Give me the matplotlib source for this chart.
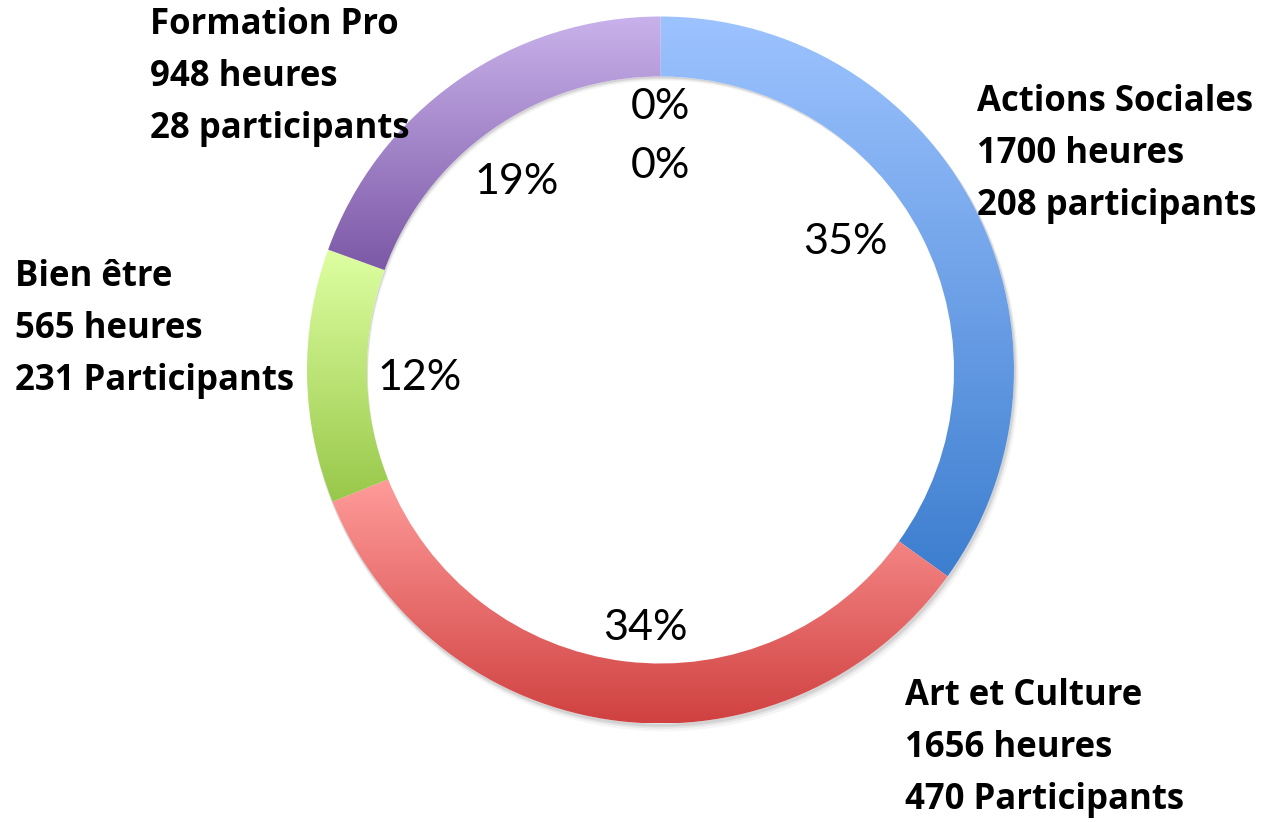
import numpy as np
import matplotlib
matplotlib.use("Agg")
import matplotlib.pyplot as plt
from matplotlib.colors import LinearSegmentedColormap
from matplotlib.patches import Wedge

# donnees
categories = ['Actions Sociales', 'Art et Culture', 'Bien être', 'Formation Pro', '', '']
heures = [1700, 1656, 565, 948, 0, 0]
participants = ['208 participants', '470 Participants', '231 Participants', '28 participants']

# couleurs degradees (haut, bas)
top_colors = ['#9DC3FF', '#FF9C9A', '#DEFFA2', '#C9B2EB', '#FFFFFF', '#FFFFFF']
bottom_colors = ['#3D7ECF', '#D04141', '#98C84A', '#7C58A6', '#FFFFFF', '#FFFFFF']

W, H = 1278, 822
cx, cy = 660.5, H - 370
R = 353.5
ring = 60

fig = plt.figure(figsize=(W / 100, H / 100), dpi=100)
ax = fig.add_axes([0, 0, 1, 1])

# ombre legere sous l'anneau
for off, a in [(6, 0.04), (4, 0.06), (2.5, 0.08)]:
    sh = Wedge((cx + off * 0.5, cy - off), R + off * 0.3, 0, 360, width=ring,
               facecolor='black', alpha=a, edgecolor='none')
    ax.add_patch(sh)

wedges, _ = ax.pie(heures, center=(cx, cy), radius=R, startangle=90,
                   counterclock=False, wedgeprops=dict(width=ring, linewidth=0),
                   colors=['white'] * len(heures), frame=True)

grad = np.linspace(0, 1, 256).reshape(-1, 1)
for w, v, ct, cb in zip(wedges, heures, top_colors, bottom_colors):
    if v == 0:
        continue
    ext = w.get_path().get_extents()
    cmap = LinearSegmentedColormap.from_list('g', [cb, ct])
    im = ax.imshow(grad, extent=[ext.x0, ext.x1, ext.y0, ext.y1], origin='lower',
                   cmap=cmap, aspect='auto', interpolation='bilinear', zorder=2)
    im.set_clip_path(w)

ax.set_xlim(0, W)
ax.set_ylim(0, H)
ax.set_aspect('equal')
ax.axis('off')

# pourcentages
total = sum(heures)
pct_pos = [(845, 242), (645, 628), (420, 378), (517, 182), (660, 107), (660, 166)]
for v, (px, py) in zip(heures, pct_pos):
    ax.text(px, H - py, f'{round(v / total * 100)}%', ha='center', va='center',
            fontsize=31, family='Lato', color='black', zorder=5)

# etiquettes des categories
lab_pos = [(977, 111), (905, 705), (15, 286), (150, 34)]
for cat, h, p, (lx, ly) in zip(categories, heures, participants, lab_pos):
    lines = [cat, f'{h} heures', p]
    for i, t in enumerate(lines):
        ax.text(lx, H - (ly + i * 52), t, ha='left', va='baseline', fontsize=25,
                family='Open Sans', fontweight='bold', color='black', zorder=5)

fig.savefig('out.png', dpi=100)
